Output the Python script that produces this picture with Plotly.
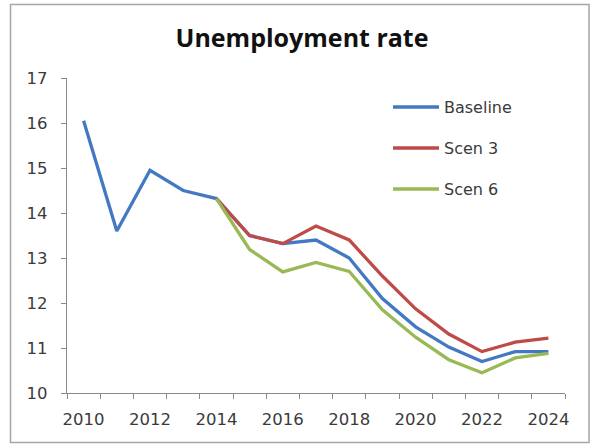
import plotly.graph_objects as go

# Series data
years = list(range(2010, 2025))
baseline = [16.05, 13.6, 14.95, 14.5, 14.32, 13.5, 13.32, 13.4, 13.0, 12.1, 11.47, 11.02, 10.7, 10.92, 10.92]
scen3 = [None, None, None, None, 14.32, 13.5, 13.32, 13.71, 13.4, 12.6, 11.87, 11.31, 10.92, 11.13, 11.22]
scen6 = [None, None, None, None, 14.32, 13.19, 12.69, 12.9, 12.7, 11.85, 11.24, 10.74, 10.45, 10.78, 10.88]

series_names = ["Baseline", "Scen 3", "Scen 6"]
series_values = [baseline, scen3, scen6]
colors = ["#4379C2", "#BE4B48", "#98B954"]

x_tick_vals = [2010, 2012, 2014, 2016, 2018, 2020, 2022, 2024]
y_tick_vals = [10, 11, 12, 13, 14, 15, 16, 17]

W, H = 592, 444
L, R, T, B = 67, 27, 78, 51
plot_w = W - L - R
plot_h = H - T - B

text_color = "#3a3a3a"
axis_color = "#8a8a8a"

fig = go.Figure()
for name, vals, col in zip(series_names, series_values, colors):
    fig.add_trace(go.Scatter(
        x=years, y=vals, name=name, mode="lines",
        line=dict(color=col, width=3.3), showlegend=False,
        connectgaps=False,
    ))


def px_x(px):
    return (px - L) / plot_w


def px_y(py):
    return (H - B - py) / plot_h


# Legend drawn as line samples with labels
legend_rows = [107, 148, 189]
for name, col, row in zip(series_names, colors, legend_rows):
    fig.add_shape(type="line", xref="paper", yref="paper",
                  x0=px_x(393), x1=px_x(439), y0=px_y(row), y1=px_y(row),
                  line=dict(color=col, width=3.3))
    fig.add_annotation(text=name, xref="paper", yref="paper",
                       x=px_x(442), y=px_y(row), xanchor="left", yanchor="middle",
                       showarrow=False,
                       font=dict(family="DejaVu Sans", size=16, color=text_color))

# Outer chart frame
fig.add_shape(type="rect", xref="paper", yref="paper",
              x0=px_x(10.5), x1=px_x(589), y0=px_y(442.5), y1=px_y(4.5),
              line=dict(color="#a6a6a6", width=1.5), layer="below")

fig.update_layout(
    width=W, height=H,
    margin=dict(l=L, r=R, t=T, b=B),
    paper_bgcolor="white", plot_bgcolor="white",
    title=dict(text="<b>Unemployment rate</b>", x=302 / W, xanchor="center",
               y=1 - 38 / H, yanchor="middle",
               font=dict(family="Open Sans", size=25, color="#111111")),
)

fig.update_xaxes(
    range=[2009.5, 2024.5], tickvals=x_tick_vals, ticktext=[str(v) for v in x_tick_vals],
    showgrid=False, zeroline=False, showline=True, linecolor=axis_color, linewidth=1.3,
    ticks="", ticklabelstandoff=11,
    minor=dict(tick0=2009.5, dtick=1, ticks="outside", ticklen=5, tickcolor=axis_color,
               tickwidth=1.3, showgrid=False),
    tickfont=dict(family="DejaVu Sans", size=16.5, color=text_color),
)
fig.update_yaxes(
    range=[10, 17], tickvals=y_tick_vals,
    showgrid=False, zeroline=False, showline=True, linecolor=axis_color, linewidth=1.3,
    ticks="outside", ticklen=5, tickcolor=axis_color, tickwidth=1.3,
    ticklabelstandoff=10,
    tickfont=dict(family="DejaVu Sans", size=16.5, color=text_color),
)

fig.write_html("out.html")
